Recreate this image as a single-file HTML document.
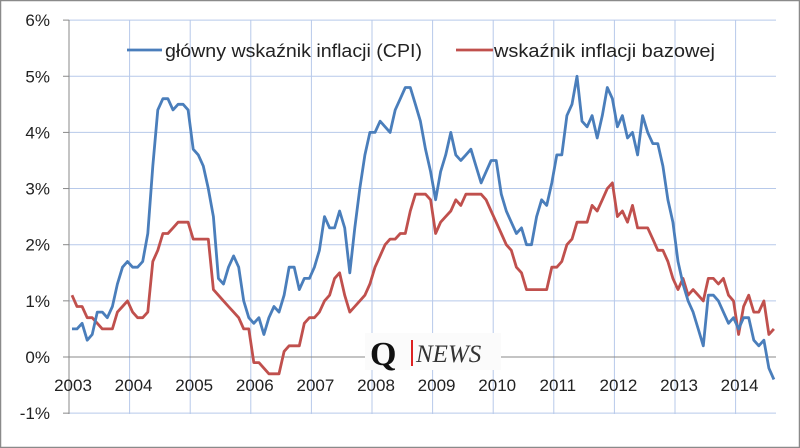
<!DOCTYPE html>
<html><head><meta charset="utf-8"><style>
html,body{margin:0;padding:0;background:#fff;}
svg{display:block;font-family:"Liberation Sans",sans-serif;}
</style></head><body>
<svg id="c" width="800" height="448" viewBox="0 0 800 448" xmlns="http://www.w3.org/2000/svg">
<rect x="0.5" y="0.5" width="799" height="447" fill="#fff" stroke="#8a8a8a" stroke-width="1.5"/>
<g id="grid" stroke="#b7c9ea" stroke-width="1"></g>
<g id="axes"></g>
<g id="labels" font-size="17" fill="#222"></g>
<rect x="365" y="333" width="136" height="37" fill="#fbfbfb"/>
<text x="370" y="365" font-family="Liberation Serif,serif" font-size="34" font-weight="bold" fill="#111">Q</text>
<rect x="411" y="340" width="2" height="26" fill="#d22"/>
<text x="416" y="362" font-family="Liberation Serif,serif" font-style="italic" font-size="25" fill="#333">NEWS</text>
<polyline id="core" fill="none" stroke="#c0504d" stroke-width="2.8" stroke-linejoin="round"/>
<polyline id="cpi" fill="none" stroke="#4a7ebb" stroke-width="2.8" stroke-linejoin="round"/>
<line x1="127" y1="50" x2="162" y2="50" stroke="#4a7ebb" stroke-width="2.8"/>
<text x="165" y="57" font-size="18" fill="#222" textLength="257" lengthAdjust="spacingAndGlyphs">główny wskaźnik inflacji (CPI)</text>
<line x1="456" y1="50" x2="493" y2="50" stroke="#c0504d" stroke-width="2.8"/>
<text x="494" y="57" font-size="18" fill="#222" textLength="221" lengthAdjust="spacingAndGlyphs">wskaźnik inflacji bazowej</text>
</svg>
<script>
var cpi=[0.5,0.5,0.6,0.3,0.4,0.8,0.8,0.7,0.9,1.3,1.6,1.7,
1.6,1.6,1.7,2.2,3.4,4.4,4.6,4.6,4.4,4.5,4.5,4.4,
3.7,3.6,3.4,3.0,2.5,1.4,1.3,1.6,1.8,1.6,1.0,0.7,
0.6,0.7,0.4,0.7,0.9,0.8,1.1,1.6,1.6,1.2,1.4,1.4,
1.6,1.9,2.5,2.3,2.3,2.6,2.3,1.5,2.3,3.0,3.6,4.0,
4.0,4.2,4.1,4.0,4.4,4.6,4.8,4.8,4.5,4.2,3.7,3.3,
2.8,3.3,3.6,4.0,3.6,3.5,3.6,3.7,3.4,3.1,3.3,3.5,
3.5,2.9,2.6,2.4,2.2,2.3,2.0,2.0,2.5,2.8,2.7,3.1,
3.6,3.6,4.3,4.5,5.0,4.2,4.1,4.3,3.9,4.3,4.8,4.6,
4.1,4.3,3.9,4.0,3.6,4.3,4.0,3.8,3.8,3.4,2.8,2.4,
1.7,1.3,1.0,0.8,0.5,0.2,1.1,1.1,1.0,0.8,0.6,0.7,
0.5,0.7,0.7,0.3,0.2,0.3,-0.2,-0.4];
var core=[1.1,0.9,0.9,0.7,0.7,0.6,0.5,0.5,0.5,0.8,0.9,1.0,
0.8,0.7,0.7,0.8,1.7,1.9,2.2,2.2,2.3,2.4,2.4,2.4,
2.1,2.1,2.1,2.1,1.2,1.1,1.0,0.9,0.8,0.7,0.5,0.5,
-0.1,-0.1,-0.2,-0.3,-0.3,-0.3,0.1,0.2,0.2,0.2,0.6,0.7,
0.7,0.8,1.0,1.1,1.4,1.5,1.1,0.8,0.9,1.0,1.1,1.3,
1.6,1.8,2.0,2.1,2.1,2.2,2.2,2.6,2.9,2.9,2.9,2.8,
2.2,2.4,2.5,2.6,2.8,2.7,2.9,2.9,2.9,2.9,2.8,2.6,
2.4,2.2,2.0,1.9,1.6,1.5,1.2,1.2,1.2,1.2,1.2,1.6,
1.6,1.7,2.0,2.1,2.4,2.4,2.4,2.7,2.6,2.8,3.0,3.1,
2.5,2.6,2.4,2.7,2.3,2.3,2.3,2.1,1.9,1.9,1.7,1.4,
1.2,1.4,1.1,1.2,1.1,1.0,1.4,1.4,1.3,1.4,1.1,1.0,
0.4,0.9,1.1,0.8,0.8,1.0,0.4,0.5];
function X(i){return 72+i*5.05;}function Y(v){return 357-v*56.15;}
function pts(a){return a.map(function(v,i){return X(i).toFixed(1)+","+Y(v).toFixed(1)}).join(" ");}
document.getElementById("cpi").setAttribute("points",pts(cpi));
document.getElementById("core").setAttribute("points",pts(core));
var ns="http://www.w3.org/2000/svg",g=document.getElementById("grid"),ax=document.getElementById("axes"),lb=document.getElementById("labels");
function el(p,t,a,txt){var e=document.createElementNS(ns,t);for(var k in a)e.setAttribute(k,a[k]);if(txt)e.textContent=txt;p.appendChild(e);return e;}
for(var v=-1;v<=6;v++){var y=Y(v);
 if(v!=0) el(g,"line",{x1:69,x2:776,y1:y,y2:y});
 el(ax,"line",{x1:63,x2:69,y1:y,y2:y,stroke:"#888"});
 el(lb,"text",{x:50,y:y+6,"text-anchor":"end"},v+"%");}
for(var k=0;k<12;k++){var x=69+k*60.6;
 if(k>0) el(g,"line",{x1:x,x2:x,y1:20,y2:414});
 el(lb,"text",{x:x+4,y:391,"text-anchor":"middle"},String(2003+k));}
el(ax,"line",{x1:69,x2:69,y1:20,y2:414,stroke:"#888"});
el(ax,"line",{x1:69,x2:776,y1:Y(0),y2:Y(0),stroke:"#888"});
</script>
</body></html>
